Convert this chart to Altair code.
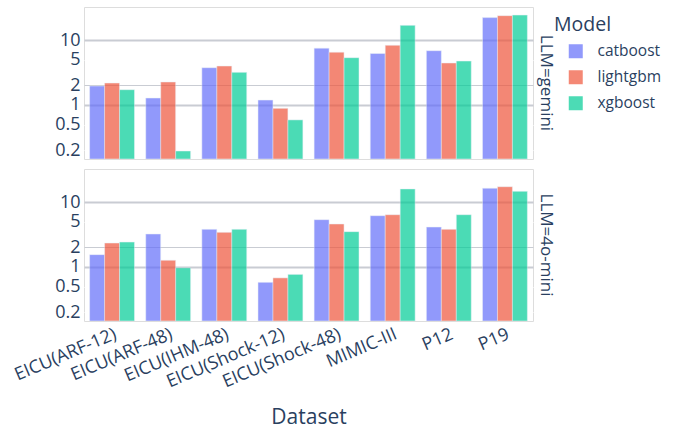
import altair as alt
import pandas as pd

datasets = ["EICU(ARF-12)", "EICU(ARF-48)", "EICU(IHM-48)", "EICU(Shock-12)",
            "EICU(Shock-48)", "MIMIC-III", "P12", "P19"]
models = ["catboost", "lightgbm", "xgboost"]
llms = ["gemini", "4o-mini"]

gemini_catboost = [1.96, 1.28, 3.75, 1.19, 7.5, 6.2, 6.85, 22.1]
gemini_lightgbm = [2.18, 2.26, 3.98, 0.89, 6.5, 8.3, 4.43, 23.7]
gemini_xgboost = [1.72, 0.196, 3.18, 0.59, 5.35, 16.8, 4.75, 24.2]
mini_catboost = [1.55, 3.22, 3.8, 0.58, 5.35, 6.16, 4.12, 16.3]
mini_lightgbm = [2.34, 1.27, 3.41, 0.68, 4.59, 6.38, 3.8, 17.2]
mini_xgboost = [2.42, 0.97, 3.8, 0.77, 3.5, 15.9, 6.38, 14.6]

series = {
    ("gemini", "catboost"): gemini_catboost,
    ("gemini", "lightgbm"): gemini_lightgbm,
    ("gemini", "xgboost"): gemini_xgboost,
    ("4o-mini", "catboost"): mini_catboost,
    ("4o-mini", "lightgbm"): mini_lightgbm,
    ("4o-mini", "xgboost"): mini_xgboost,
}

rows = []
for (llm, model), vals in series.items():
    for d, v in zip(datasets, vals):
        rows.append({"LLM": llm, "Model": model, "Dataset": d, "value": v})
df = pd.DataFrame(rows)

FONT = "Open Sans"
TXT = "#2a3f5f"

grid_color = alt.condition("datum.value == 1 || datum.value == 10 || datum.value == 2",
                           alt.value("#c9ccd3"), alt.value("white"))
grid_width = alt.condition("datum.value == 1 || datum.value == 10",
                           alt.value(2), alt.value(1))

base = alt.Chart(df).mark_bar(opacity=0.7, stroke="#E5ECF6", strokeWidth=0.5, clip=True).encode(
    x=alt.X("Dataset:N", sort=datasets,
            scale=alt.Scale(paddingInner=0.2, paddingOuter=0.1),
            axis=alt.Axis(title="Dataset", labelAngle=-23, ticks=False, domain=False,
                          grid=False, labelFontSize=18, titleFontSize=21,
                          labelFont=FONT, titleFont=FONT, labelColor=TXT, titleColor=TXT,
                          titleFontWeight="normal", labelPadding=3, titlePadding=16)),
    xOffset=alt.XOffset("Model:N", sort=models, scale=alt.Scale(paddingInner=0, paddingOuter=0)),
    y=alt.Y("value:Q", stack=None,
            scale=alt.Scale(type="log", domain=[0.1476, 32.2], nice=False),
            axis=alt.Axis(title=None, values=[0.2, 0.5, 1, 2, 5, 10], format="~g",
                          ticks=False, domain=False, labelFontSize=18, labelFont=FONT,
                          labelColor=TXT, labelPadding=3, labelOverlap=False,
                          gridColor=grid_color, gridWidth=grid_width)),
    color=alt.Color("Model:N", sort=models,
                    scale=alt.Scale(domain=models, range=["#636efa", "#EF553B", "#00cc96"]),
                    legend=alt.Legend(title="Model", symbolType="square", symbolSize=196,
                                      symbolOpacity=0.7, symbolStrokeWidth=0,
                                      labelFontSize=15.5, titleFontSize=19.5, labelFont=FONT,
                                      titleFont=FONT, labelColor=TXT, titleColor=TXT,
                                      titleFontWeight="normal", rowPadding=9,
                                      symbolOffset=14, labelOffset=14, titlePadding=8,
                                      orient="none", legendX=470, legendY=9)),
).properties(width=449, height=152)

chart = base.facet(
    row=alt.Row("LLM:N", sort=llms,
                header=alt.Header(title=None, labelOrient="right", labelAngle=90,
                                  labelFontSize=17, labelFont=FONT, labelColor=TXT,
                                  labelPadding=3,
                                  labelExpr="'LLM=' + datum.value"))
).properties(
    spacing=8,
    padding={"left": 11, "top": 6, "right": 0, "bottom": 2}
).configure_view(
    fill="#E5ECF6", stroke=None
).configure(
    background="white"
)

chart.save("out.html", embed_options={"renderer": "svg", "actions": False})
